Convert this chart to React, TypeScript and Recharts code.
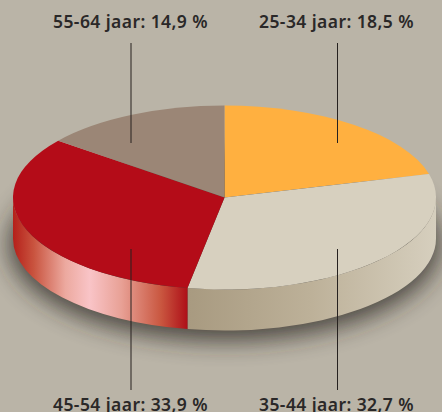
import React from "react";
import { PieChart, Pie } from "recharts";

// Printed figures of the reference, in clockwise order from 12 o'clock.
const categories = ["25-34 jaar", "35-44 jaar", "45-54 jaar", "55-64 jaar"];
const printedPercent = ["18,5", "32,7", "33,9", "14,9"];
// Slice sizes as actually drawn in the reference (measured from its slice edges);
// the picture's wedges are not exactly proportional to the printed figures.
const drawnShare = [20.9, 31.9, 32.8, 14.4];
const sliceColors = ["#ffb040", "#d7d0bf", "#b40c18", "#9b8676"];
const wallFills = ["none", "url(#creamWall)", "url(#redWall)", "none"];

const W = 442;
const H = 412;
const CX = 224.5;
const CY = 197.5;
const RX = 211.5;
const TILT = 0.435;
const DEPTH = 41;

const calloutX = [337.5, 337.5, 131, 131];
const lineY: [number, number][] = [[43, 143], [249, 390], [249, 390], [43, 143]];
const labelPos: [number, number][] = [[259, 28], [259, 411], [53, 411], [53, 28]];

const tableData = categories.map((name, i) => ({
  name,
  value: drawnShare[i],
  fill: sliceColors[i],
  wall: wallFills[i],
}));
const shadowData = [{ name: "shadow", value: 1 }];

const pt = (cx: number, cy: number, rx: number, ry: number, deg: number) => {
  const r = (deg * Math.PI) / 180;
  return [cx + rx * Math.cos(r), cy - ry * Math.sin(r)];
};

function Slice(props: any) {
  const { cx, cy, outerRadius, startAngle, endAngle, fill, wall } = props;
  const rx = outerRadius;
  const ry = outerRadius * TILT;
  const s = pt(cx, cy, rx, ry, startAngle);
  const e = pt(cx, cy, rx, ry, endAngle);
  const large = Math.abs(startAngle - endAngle) > 180 ? 1 : 0;
  const top = `M${cx},${cy}L${s[0]},${s[1]}A${rx},${ry} 0 ${large} 1 ${e[0]},${e[1]}Z`;
  let wallPath = null;
  if (wall && wall !== "none") {
    const a0 = Math.min(startAngle, 0);
    const a1 = Math.max(endAngle, -180);
    const a = pt(cx, cy, rx, ry, a0);
    const b = pt(cx, cy, rx, ry, a1);
    wallPath = `M${a[0]},${a[1]}L${a[0]},${a[1] + DEPTH}A${rx},${ry} 0 0 1 ${b[0]},${b[1] + DEPTH}L${b[0]},${b[1]}A${rx},${ry} 0 0 0 ${a[0]},${a[1]}Z`;
  }
  return (
    <g>
      {wallPath && <path d={wallPath} fill={wall} stroke="none" />}
      <path d={top} fill={fill} stroke="none" />
    </g>
  );
}

function Callout(props: any) {
  const i = categories.indexOf(props.name);
  return (
    <g>
      <line x1={calloutX[i]} x2={calloutX[i]} y1={lineY[i][0]} y2={lineY[i][1]} stroke="#26211f" strokeWidth={1} />
      <text
        x={labelPos[i][0]}
        y={labelPos[i][1]}
        fontFamily="'Noto Sans', sans-serif"
        fontWeight={600}
        fontSize={17.5}
        fill="#2a2828"
        letterSpacing={0.42}
      >
        {`${categories[i]}: ${printedPercent[i]} %`}
      </text>
    </g>
  );
}

function Shadow(props: any) {
  const { cx, cy, outerRadius } = props;
  return (
    <g>
      <defs>
        <filter id="blur" x="-30%" y="-50%" width="160%" height="200%">
          <feGaussianBlur stdDeviation="12" />
        </filter>
        <linearGradient id="redWall" x1="0" y1="0" x2="1" y2="0">
          <stop offset="0" stopColor="#b5201a" />
          <stop offset="0.12" stopColor="#c9543f" />
          <stop offset="0.3" stopColor="#eca99f" />
          <stop offset="0.44" stopColor="#f9c4c7" />
          <stop offset="0.62" stopColor="#e8a196" />
          <stop offset="0.85" stopColor="#c9563f" />
          <stop offset="1" stopColor="#ae0f18" />
        </linearGradient>
        <linearGradient id="creamWall" x1="0" y1="0" x2="1" y2="0">
          <stop offset="0" stopColor="#a89a80" />
          <stop offset="0.5" stopColor="#bdb199" />
          <stop offset="1" stopColor="#d6cfbe" />
        </linearGradient>
      </defs>
      <ellipse
        cx={cx}
        cy={cy + DEPTH + 6}
        rx={outerRadius + 4}
        ry={outerRadius * TILT + 4}
        fill="#2a2620"
        opacity={0.78}
        filter="url(#blur)"
      />
    </g>
  );
}

export default function App() {
  return (
    <div style={{ position: "absolute", left: 0, top: 0, width: W, height: H, background: "#bab4a7", overflow: "hidden" }}>
      <PieChart width={W} height={H} margin={{ top: 0, right: 0, bottom: 0, left: 0 }}>
        <Pie
          data={shadowData}
          dataKey="value"
          cx={CX}
          cy={CY}
          outerRadius={RX}
          startAngle={90}
          endAngle={-270}
          shape={Shadow}
          isAnimationActive={false}
          stroke="none"
          legendType="none"
        />
        <Pie
          data={tableData}
          dataKey="value"
          nameKey="name"
          cx={CX}
          cy={CY}
          innerRadius={0}
          outerRadius={RX}
          startAngle={90}
          endAngle={-270}
          paddingAngle={0}
          shape={Slice}
          isAnimationActive={false}
          stroke="none"
        />
        <Pie
          data={tableData}
          dataKey="value"
          nameKey="name"
          cx={CX}
          cy={CY}
          outerRadius={RX}
          startAngle={90}
          endAngle={-270}
          shape={Callout}
          isAnimationActive={false}
          stroke="none"
          legendType="none"
        />
      </PieChart>
    </div>
  );
}
